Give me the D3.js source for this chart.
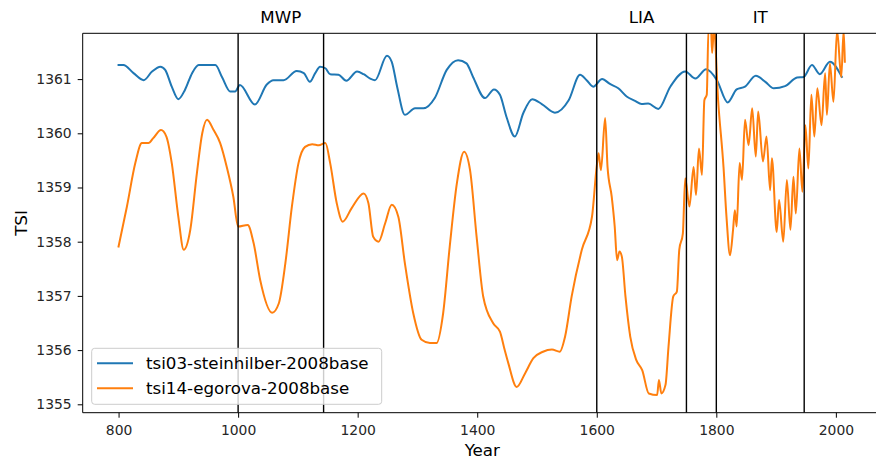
<!DOCTYPE html>
<html>
<head>
<meta charset="utf-8">
<script src="https://cdn.jsdelivr.net/npm/d3@7"></script>
<style>
  body { margin: 0; background: #fff; }
  svg { display: block; font-family: "DejaVu Sans", sans-serif; }
  .tick text { fill: #262626; }
</style>
</head>
<body>
<svg id="chart" width="876" height="462"></svg>
<script>
// tsi03-steinhilber-2008base
var steinYears = [800,808,825,842,856,870,878,889,900,911,923,934,948,962,973,987,995,1003,1028,1048,1059,1076,1098,1110,1120,1129,1137,1146,1154,1168,1181,1199,1210,1221,1229,1249,1257,1266,1279,1296,1310,1329,1349,1368,1382,1393,1413,1428,1438,1449,1463,1477,1492,1508,1530,1553,1572,1583,1594,1609,1622,1636,1650,1664,1675,1686,1703,1723,1748,1765,1783,1801,1819,1834,1848,1866,1882,1896,1915,1935,1946,1960,1973,1990,2010];
var steinVals = [1361.26,1361.26,1361.11,1360.98,1361.14,1361.23,1361.17,1360.86,1360.63,1360.80,1361.11,1361.26,1361.26,1361.26,1361.04,1360.77,1360.77,1360.89,1360.53,1360.90,1360.98,1360.98,1361.15,1361.11,1360.95,1361.11,1361.23,1361.20,1361.09,1361.08,1360.97,1361.14,1361.09,1361.01,1360.98,1361.43,1361.32,1360.86,1360.34,1360.46,1360.46,1360.65,1361.17,1361.35,1361.29,1361.04,1360.65,1360.81,1360.71,1360.30,1359.94,1360.37,1360.63,1360.54,1360.38,1360.61,1361.08,1360.98,1360.86,1361.00,1360.91,1360.83,1360.68,1360.60,1360.54,1360.55,1360.45,1360.86,1361.14,1361.01,1361.18,1360.98,1360.57,1360.81,1360.86,1361.06,1360.95,1360.83,1360.87,1361.03,1361.04,1361.26,1361.09,1361.32,1361.04];

// tsi14-egorova-2008base
var egorovaYears = [800,814,828,839,850,858,871,880,889,900,909,920,931,940,948,959,970,981,992,1000,1016,1026,1037,1057,1068,1079,1090,1101,1112,1124,1135,1146,1154,1165,1175,1190,1210,1218,1226,1235,1246,1257,1268,1279,1293,1307,1321,1332,1343,1354,1366,1378,1388,1399,1410,1427,1438,1446,1452,1466,1480,1494,1510,1525,1538,1547,1558,1575,1592,1600,1603,1607,1614,1618,1625,1630,1634,1638,1642,1648,1656,1666,1676,1687,1701,1704,1708,1715,1720,1728,1734,1738,1744,1748,1755,1762,1766,1771,1776,1780,1784,1787,1791,1793,1796,1803,1812,1817,1823,1828,1831,1834,1839,1843,1848,1854,1860,1866,1870,1878,1884,1890,1893,1901,1905,1912,1918,1924,1929,1933,1939,1944,1949,1954,1959,1964,1969,1976,1982,1985,1990,1996,2002,2009,2013,2015];
var egorovaVals = [1357.91,1358.65,1359.45,1359.82,1359.82,1359.91,1360.06,1359.94,1359.45,1358.46,1357.85,1358.22,1359.26,1360.00,1360.25,1360.06,1359.82,1359.38,1358.83,1358.28,1358.31,1357.97,1357.29,1356.69,1356.86,1357.60,1358.65,1359.45,1359.75,1359.80,1359.78,1359.82,1359.45,1358.71,1358.37,1358.62,1358.89,1358.71,1358.09,1358.00,1358.34,1358.68,1358.46,1357.60,1356.68,1356.19,1356.13,1356.13,1356.68,1357.91,1359.08,1359.66,1359.32,1358.09,1356.99,1356.49,1356.34,1356.00,1355.76,1355.32,1355.57,1355.85,1355.97,1356.01,1355.97,1356.25,1356.99,1357.85,1358.46,1359.40,1359.63,1359.32,1360.28,1359.38,1358.83,1358.28,1357.66,1357.82,1357.72,1356.99,1356.25,1355.82,1355.63,1355.20,1355.17,1355.45,1355.20,1355.36,1356.06,1356.99,1357.08,1357.85,1358.15,1359.17,1358.65,1359.38,1358.86,1359.72,1359.23,1360.61,1360.71,1361.95,1361.95,1361.48,1361.95,1360.61,1359.38,1358.46,1357.75,1358.22,1358.58,1358.28,1359.45,1359.14,1360.25,1359.78,1360.46,1359.57,1360.40,1359.48,1359.94,1358.95,1359.54,1358.18,1358.77,1358.00,1359.14,1358.22,1359.20,1358.52,1359.72,1358.92,1360.15,1359.35,1360.71,1359.94,1360.83,1360.15,1361.11,1360.34,1361.29,1360.58,1361.90,1361.04,1361.90,1361.32];

var seriesNames = ["tsi03-steinhilber-2008base", "tsi14-egorova-2008base"];
var seriesColors = ["#1f77b4", "#ff7f0e"];

// period markers
var periodLines = [1000, 1143, 1600, 1750, 1800, 1947];
var periods = [
  {label: "MWP", from: 1000, to: 1143},
  {label: "LIA", from: 1600, to: 1750},
  {label: "IT", from: 1800, to: 1947}
];

var xTicks = [800, 1000, 1200, 1400, 1600, 1800, 2000];
var yTicks = [1355, 1356, 1357, 1358, 1359, 1360, 1361];

var svg = d3.select("#chart");
var pLeft = 82.7, pTop = 33.3, pBottom = 412.7, pRight = 881.9;

var x = d3.scaleLinear().domain([740, 2077]).range([pLeft, pRight]);
var y = d3.scaleLinear().domain([1354.845, 1361.845]).range([pBottom, pTop]);

svg.append("defs").append("clipPath").attr("id", "plotclip")
  .append("rect").attr("x", pLeft).attr("y", pTop)
  .attr("width", pRight - pLeft).attr("height", pBottom - pTop);

var plot = svg.append("g").attr("clip-path", "url(#plotclip)");

var line = d3.line()
  .x(d => x(d[0])).y(d => y(d[1]))
  .curve(d3.curveMonotoneX);

var stein = steinYears.map((yr, i) => [yr, steinVals[i]]);
var egorova = egorovaYears.map((yr, i) => [yr, egorovaVals[i]]);

[stein, egorova].forEach((data, i) => {
  plot.append("path").datum(data)
    .attr("d", line)
    .attr("fill", "none")
    .attr("stroke", seriesColors[i])
    .attr("stroke-width", 2)
    .attr("stroke-linejoin", "round")
    .attr("stroke-linecap", "square");
});

// vertical markers
plot.selectAll("line.period").data(periodLines).enter()
  .append("line").attr("class", "period")
  .attr("x1", d => x(d)).attr("x2", d => x(d))
  .attr("y1", pTop).attr("y2", pBottom)
  .attr("stroke", "#000").attr("stroke-width", 1.4);

svg.selectAll("text.period").data(periods).enter()
  .append("text").attr("class", "period")
  .attr("x", d => x((d.from + d.to) / 2)).attr("y", 23)
  .attr("text-anchor", "middle")
  .attr("font-size", "16.7px").attr("fill", "#000")
  .text(d => d.label);

// axes
var xAxis = svg.append("g").attr("transform", "translate(0," + pBottom + ")")
  .call(d3.axisBottom(x).tickValues(xTicks).tickFormat(d3.format("d"))
    .tickSize(5).tickPadding(7));
var yAxis = svg.append("g").attr("transform", "translate(" + pLeft + ",0)")
  .call(d3.axisLeft(y).tickValues(yTicks).tickFormat(d3.format("d"))
    .tickSize(5).tickPadding(6));

[xAxis, yAxis].forEach(g => {
  g.selectAll("text").attr("font-size", "13.9px").attr("font-family", "DejaVu Sans");
  g.selectAll(".tick line").attr("stroke", "#000").attr("stroke-width", 1);
  g.select(".domain").remove();
});

// spines
[[pLeft, pTop, pLeft, pBottom], [pLeft, pBottom, pRight, pBottom],
 [pLeft, pTop, pRight, pTop], [pRight, pTop, pRight, pBottom]].forEach(s => {
  svg.append("line").attr("x1", s[0]).attr("y1", s[1]).attr("x2", s[2]).attr("y2", s[3])
    .attr("stroke", "#000").attr("stroke-width", 1);
});

svg.append("text").attr("x", (pLeft + pRight) / 2).attr("y", 456)
  .attr("text-anchor", "middle").attr("font-size", "16.7px").attr("fill", "#000")
  .text("Year");
svg.append("text")
  .attr("transform", "translate(26.5," + ((pTop + pBottom) / 2) + ") rotate(-90)")
  .attr("text-anchor", "middle").attr("font-size", "16.7px").attr("fill", "#000")
  .text("TSI");

// legend
var legend = svg.append("g");
legend.append("rect")
  .attr("x", 91.7).attr("y", 348.3).attr("width", 290).attr("height", 56)
  .attr("rx", 3).attr("fill", "#fff").attr("fill-opacity", 0.8)
  .attr("stroke", "#cccccc").attr("stroke-width", 1);
seriesNames.forEach((name, i) => {
  var ly = 363.3 + i * 25;
  legend.append("line").attr("x1", 97).attr("x2", 133).attr("y1", ly).attr("y2", ly)
    .attr("stroke", seriesColors[i]).attr("stroke-width", 2);
  legend.append("text").attr("x", 146).attr("y", ly).attr("dy", "0.36em")
    .attr("font-size", "16.7px").attr("fill", "#000").text(name);
});
</script>
</body>
</html>
